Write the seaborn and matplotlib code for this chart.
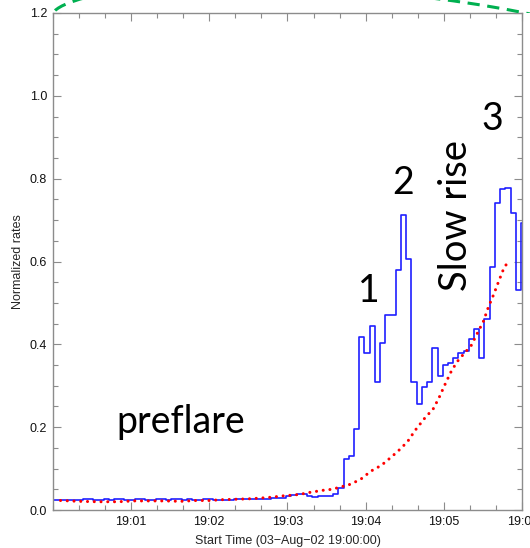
import numpy as np
import pandas as pd
import matplotlib
matplotlib.use("Agg")
import matplotlib.pyplot as plt
from matplotlib.patches import Ellipse, Rectangle
from matplotlib.ticker import MultipleLocator, FixedLocator
import seaborn as sns

# blue histogram: normalized rate per 4 s bin (bins start 19:00:-1 s, 19:00:03 s, ...)
rate_values = [
    0.024, 0.024, 0.024, 0.024, 0.024, 0.024, 0.027, 0.027, 0.025, 0.025,
    0.027, 0.024, 0.027, 0.027, 0.025, 0.025, 0.027, 0.027, 0.024, 0.024,
    0.026, 0.026, 0.024, 0.026, 0.026, 0.023, 0.026, 0.024, 0.024, 0.026,
    0.026, 0.025, 0.025, 0.025, 0.025, 0.026, 0.026, 0.026, 0.026, 0.027,
    0.027, 0.027, 0.028, 0.028, 0.029,
    0.034, 0.037, 0.038, 0.038, 0.033, 0.032, 0.035, 0.034, 0.034, 0.038,
    0.054, 0.122, 0.130, 0.195, 0.417, 0.378, 0.444, 0.310, 0.404, 0.470,
    0.470, 0.579, 0.712, 0.605, 0.310, 0.256, 0.296, 0.310, 0.390, 0.323,
    0.350, 0.355, 0.366, 0.380, 0.384, 0.414, 0.438, 0.368, 0.462, 0.587,
    0.742, 0.776, 0.778, 0.717, 0.532, 0.692,
]
bin_width_s = 4
first_bin_s = -1

# red model curve (seconds after 19:00:00, normalized rate)
model_t = [6, 20, 35, 50, 62, 74, 86, 98, 110, 120, 130, 140, 150, 160, 168,
           176, 184, 190, 196, 202, 208, 214, 220, 228, 236, 244, 252, 260,
           266, 272, 278, 283, 287, 291, 296, 301, 306, 311, 316, 321, 326,
           330, 334, 338, 342, 346, 350]
model_v = [0.023, 0.021, 0.020, 0.020, 0.022, 0.022, 0.022, 0.021, 0.023,
           0.023, 0.025, 0.026, 0.027, 0.029, 0.031, 0.034, 0.036, 0.038,
           0.042, 0.045, 0.048, 0.050, 0.055, 0.062, 0.074, 0.094, 0.108,
           0.129, 0.146, 0.165, 0.193, 0.213, 0.229, 0.240, 0.270, 0.305,
           0.338, 0.362, 0.380, 0.398, 0.430, 0.454, 0.490, 0.520, 0.553,
           0.585, 0.603]

x_tick_s = [60, 120, 180, 240, 300, 360]
x_tick_labels = ["19:01", "19:02", "19:03", "19:04", "19:05", "19:06"]

# phase annotations: (text, time s, rate)
phase_labels = [
    ("preflare", 98, 0.186),
    ("1", 242, 0.502),
    ("2", 268.6, 0.762),
    ("3", 336.8, 0.917),
]
slow_rise = ("Slow rise", 309.3, 0.712)

sns.set_style("ticks")
plt.rcParams["font.family"] = ["Liberation Sans", "DejaVu Sans"]

fig = plt.figure(figsize=(5.3, 5.48), dpi=100)
ax = fig.add_axes([0.0994, 0.0693, 0.8861, 0.907])

n = len(rate_values)
hist = pd.DataFrame({
    "t": first_bin_s + bin_width_s * np.arange(n + 1),
    "rate": rate_values + [rate_values[-1]],
})
model = pd.DataFrame({"t": model_t, "rate": model_v})

sns.lineplot(data=hist, x="t", y="rate", ax=ax, color="#1f1fff",
             linewidth=1.2, drawstyle="steps-post", errorbar=None,
             sort=False)
sns.lineplot(data=model, x="t", y="rate", ax=ax, color="#ff0000",
             linewidth=2.2, linestyle=(0, (0.01, 2.2)),
             dash_capstyle="round", errorbar=None)

ax.set_xlim(0, 360)
ax.set_ylim(0, 1.2)
ax.xaxis.set_major_locator(FixedLocator(x_tick_s))
ax.set_xticklabels(x_tick_labels)
ax.xaxis.set_minor_locator(MultipleLocator(20))
ax.yaxis.set_major_locator(MultipleLocator(0.2))
ax.yaxis.set_minor_locator(MultipleLocator(0.05))
ax.yaxis.set_major_formatter(matplotlib.ticker.FormatStrFormatter("%.1f"))

grey = "#8c8c8c"
for s in ax.spines.values():
    s.set_visible(True)
    s.set_color(grey)
    s.set_linewidth(1.0)
ax.tick_params(which="both", direction="in", top=True, right=True,
               color=grey, width=0.8, labelsize=9, labelcolor="#111111")
ax.tick_params(which="major", length=6, pad=4)
ax.tick_params(which="minor", length=3.3)

ax.set_xlabel("Start Time (03\u2212Aug\u221202 19:00:00)", fontsize=9,
              labelpad=5)
ax.set_ylabel("Normalized rates", fontsize=9, labelpad=4)

big = ["Lato", "DejaVu Sans"]
for text, t, v in phase_labels:
    ax.text(t, v, text, ha="center", va="baseline", fontsize=27,
            family=big, color="black")
ax.text(slow_rise[1], slow_rise[2], slow_rise[0], ha="center", va="center",
        rotation=90, fontsize=27.5, family=big, color="black")

# green dashed outline peeking above the panel
arc = Ellipse((3.491, 5.06), 6.0, 1.04, angle=-4.4, fill=False,
              edgecolor="#00b050", linewidth=2.2, linestyle=(0, (4, 2.5)),
              transform=fig.dpi_scale_trans)
fig.add_artist(arc)
arc.set_clip_path(Rectangle((0, 5.35), 5.3, 0.2,
                            transform=fig.dpi_scale_trans))

fig.savefig("out.png", dpi=100)
